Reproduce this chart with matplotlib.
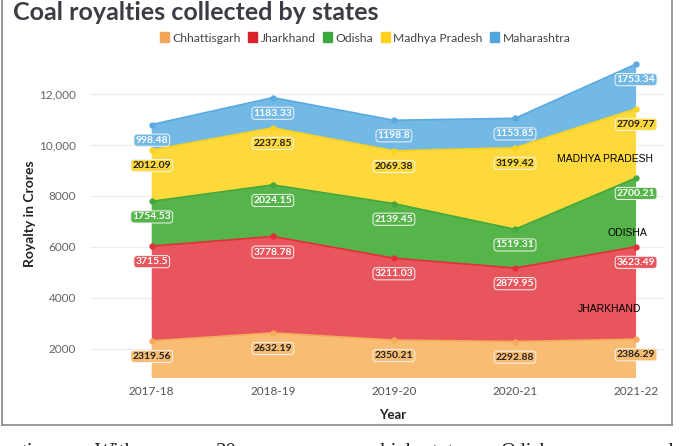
import numpy as np
import matplotlib.pyplot as plt
from matplotlib.patches import Patch
from matplotlib.lines import Line2D

plt.rcParams['font.family'] = ['Lato', 'DejaVu Sans']

years = ['2017-18', '2018-19', '2019-20', '2020-21', '2021-22']
states = ['Chhattisgarh', 'Jharkhand', 'Odisha', 'Madhya Pradesh', 'Maharashtra']
chhattisgarh = [2319.56, 2632.19, 2350.21, 2292.88, 2386.29]
jharkhand = [3715.5, 3778.78, 3211.03, 2879.95, 3623.49]
odisha = [1754.53, 2024.15, 2139.45, 1519.31, 2700.21]
madhya_pradesh = [2012.09, 2237.85, 2069.38, 3199.42, 2709.77]
maharashtra = [998.48, 1183.33, 1198.8, 1153.85, 1753.34]
label_texts = [
    ['2319.56', '2632.19', '2350.21', '2292.88', '2386.29'],
    ['3715.5', '3778.78', '3211.03', '2879.95', '3623.49'],
    ['1754.53', '2024.15', '2139.45', '1519.31', '2700.21'],
    ['2012.09', '2237.85', '2069.38', '3199.42', '2709.77'],
    ['998.48', '1183.33', '1198.8', '1153.85', '1753.34'],
]

series = [chhattisgarh, jharkhand, odisha, madhya_pradesh, maharashtra]
fill_colors = ['#f8bd72', '#e8555c', '#56b54a', '#fdd93c', '#72b9e6']
line_colors = ['#f4ab5e', '#e0303a', '#44a83c', '#fbd21e', '#5aa9e0']
legend_colors = ['#f4a55a', '#dc2028', '#3caa3c', '#ffd21e', '#50a5dc']
text_colors = ['#222222', 'white', 'white', '#222222', 'white']

fig = plt.figure(figsize=(6.85, 4.46), dpi=100)
ax = fig.add_axes([0.131, 0.1525, 0.84, 0.7355])

x = np.arange(len(years))
data = np.array(series)
tops = np.cumsum(data, axis=0)

ax.stackplot(x, data, colors=fill_colors, zorder=2)

for i in range(len(series)):
    ax.plot(x, tops[i], color=line_colors[i], lw=1.2, marker='o', ms=3.5, zorder=3)
    for j in range(len(years)):
        ax.annotate(label_texts[i][j], (x[j], tops[i][j]), xytext=(0, -8),
                    textcoords='offset points', ha='center', va='top',
                    fontsize=7.5, fontweight='bold', color=text_colors[i],
                    bbox=dict(boxstyle='round,pad=0.15,rounding_size=0.3',
                              fc=fill_colors[i], ec='#f4f4f4', lw=0.7),
                    zorder=5)

# state names written over the chart
ax.text(3.74, 9451, 'MADHYA PRADESH', ha='center', va='center', fontsize=7.5,
        family='Liberation Sans', color='black', zorder=6)
ax.text(3.93, 6549, 'ODISHA', ha='center', va='center', fontsize=7.5,
        family='Liberation Sans', color='black', zorder=6)
ax.text(3.78, 3569, 'JHARKHAND', ha='center', va='center', fontsize=7.5,
        family='Liberation Sans', color='black', zorder=6)

ax.set_xlim(-0.512, 4.24)
ax.set_ylim(863, 13725)
ax.set_xticks(x)
ax.set_xticklabels(years)
ax.set_yticks([2000, 4000, 6000, 8000, 10000, 12000])
ax.set_yticklabels(['2000', '4000', '6000', '8000', '10,000', '12,000'])
ax.tick_params(axis='both', length=0, labelsize=8.5, colors='#555555')
ax.tick_params(axis='y', pad=10, colors='#666666')
ax.tick_params(axis='x', pad=6)
ax.grid(axis='y', color='#ececec', lw=0.8, zorder=0)
for s in ax.spines.values():
    s.set_visible(False)

ax.set_xlabel('Year', fontsize=9.5, fontweight='bold', color='#222222')
ax.xaxis.set_label_coords(0.527, -0.094)
ax.set_ylabel('Royalty in Crores', fontsize=10, fontweight='bold', color='#222222')
ax.yaxis.set_label_coords(-0.093, 0.5)

fig.text(0.019, 0.955, 'Coal royalties collected by states', fontsize=18,
         fontweight='bold', color='#3c3c44', ha='left', va='baseline')

handles = [Patch(facecolor=c, edgecolor=c) for c in legend_colors]
fig.legend(handles, states, loc='center', bbox_to_anchor=(0.533, 0.915), ncol=5,
           frameon=False, fontsize=8.7, handlelength=0.75, handleheight=0.9,
           handletextpad=0.3, columnspacing=0.6, labelcolor='#444444')

# frame of the clipped page
for seg in [([0.003, 0.003], [1.0, 0.047]), ([0.981, 0.981], [1.0, 0.047]),
            ([0.003, 0.981], [0.047, 0.047])]:
    fig.add_artist(Line2D(seg[0], seg[1], transform=fig.transFigure,
                          color='#8a8a8a', lw=1.2))

# body text of the page below, cut by the bottom edge as in the scan
body_words = ['tion.', 'With', '30', 'which', 'state', 'Odisha', 'd']
body_x = [22, 95, 216, 366, 424, 500, 662]
for w, px in zip(body_words, body_x):
    fig.text(px / 685, 1 - 443 / 446, w, family='Liberation Serif', fontsize=15,
             color='#222222', ha='left', va='top')

fig.savefig('out.png', dpi=100)
